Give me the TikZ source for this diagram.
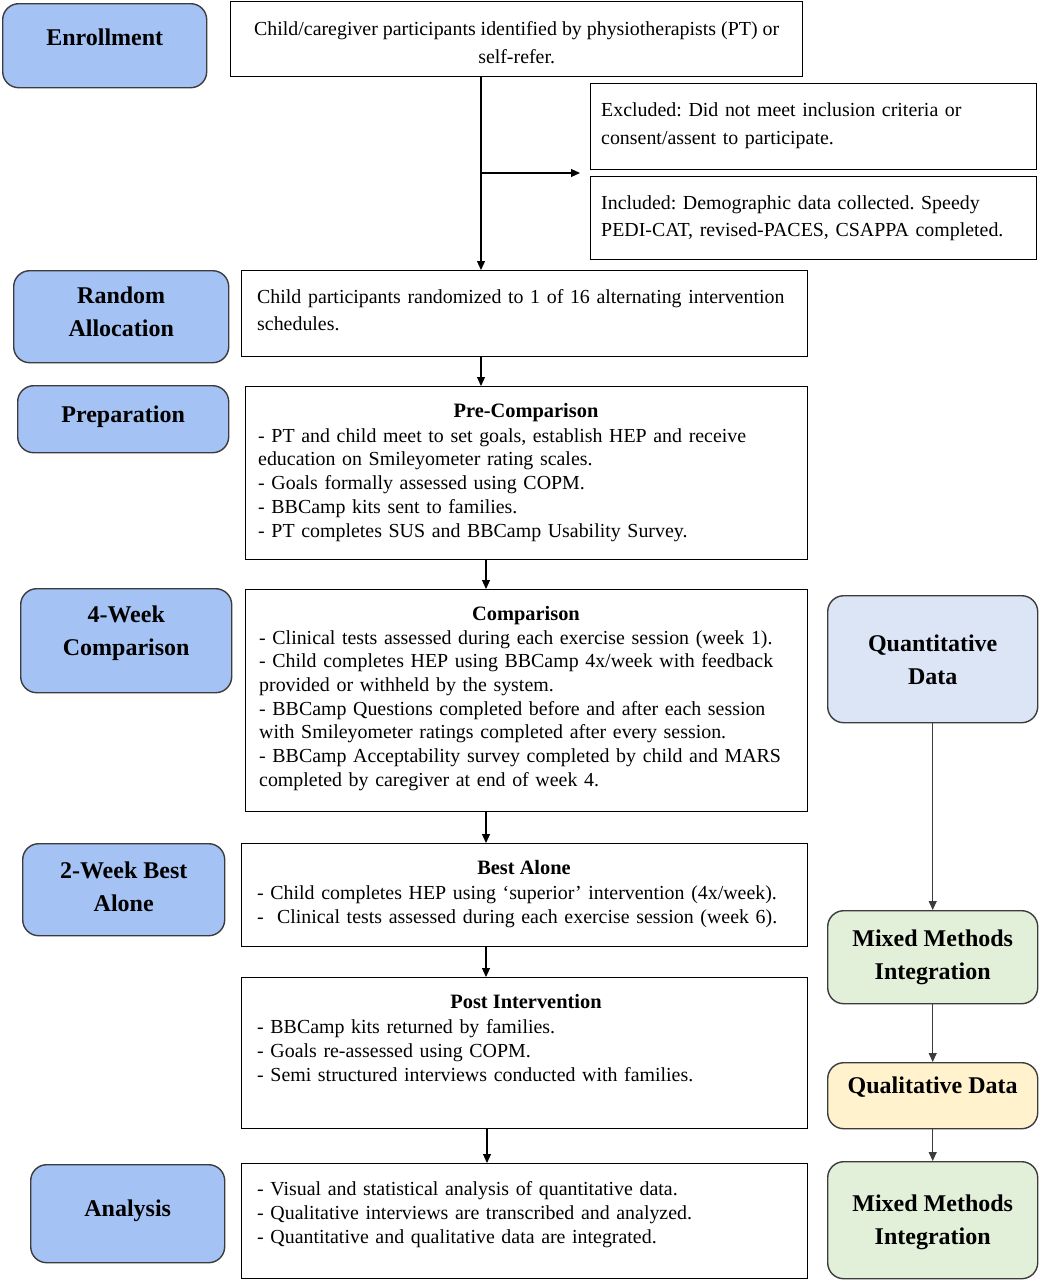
\documentclass[tikz,border=0pt]{standalone}
\usepackage{fontspec}
\setmainfont{Liberation Serif}
\frenchspacing
\usetikzlibrary{arrows.meta}
\definecolor{phaseblue}{RGB}{164,194,244}
\definecolor{quantblue}{RGB}{219,229,245}
\definecolor{mixgreen}{RGB}{226,239,217}
\definecolor{qualyellow}{RGB}{255,242,204}
\definecolor{edgegray}{RGB}{60,60,60}
\begin{document}
\begin{tikzpicture}[x=1pt,y=-1pt,
  phase/.style={draw=edgegray, line width=1.4pt, rounded corners=16pt, fill=phaseblue,
    inner sep=0, anchor=north west},
  side/.style={draw=edgegray, line width=1.4pt, rounded corners=16pt,
    inner sep=0, anchor=north west},
  lbl/.style={font=\bfseries\fontsize{24}{33}\selectfont, align=center, inner sep=0},
  box/.style={draw=black, line width=1.3pt, inner sep=0, anchor=north west},
  body/.style={inner sep=0, anchor=base west, text width=620pt, align=left},
  head/.style={inner sep=0, anchor=base, font=\bfseries\fontsize{20.4}{24}\selectfont},
  arr/.style={-{Triangle[length=9pt,width=8pt]}, line width=1.1pt, draw=black}
]
\useasboundingbox (0,0) rectangle (1039,1280);

% phase labels (left)
\node[phase, minimum width=204, minimum height=84] (penr) at (2,3) {};
\node[lbl] (lenr) at ([yshift=8pt]penr.center) {Enrollment};
\node[phase, minimum width=215, minimum height=92] (prand) at (13,270) {};
\node[lbl] (lrand) at ([yshift=5pt]prand.center) {Random\\Allocation};
\node[phase, minimum width=211, minimum height=67] (pprep) at (17,385) {};
\node[lbl] (lprep) at ([yshift=2pt]pprep.center) {Preparation};
\node[phase, minimum width=211, minimum height=104] (pcomp) at (20,588) {};
\node[lbl] (lcomp) at ([yshift=7pt]pcomp.center) {4-Week\\Comparison};
\node[phase, minimum width=202, minimum height=92] (pbest) at (22,843) {};
\node[lbl] (lbest) at ([yshift=3pt]pbest.center) {2-Week Best\\Alone};
\node[phase, minimum width=194, minimum height=98] (pana) at (30,1164) {};
\node[lbl] (lana) at ([yshift=3pt]pana.center) {Analysis};

% central boxes
\node[box, minimum width=572, minimum height=75] (enr) at (230,1) {};
\node[align=center, inner sep=0, font=\fontsize{19.9}{28}\selectfont] (tenr)
  at ([yshift=-3pt]enr.center)
  {Child/caregiver participants identified by physiotherapists (PT) or\\self-refer.};
\node[box, minimum width=446, minimum height=86] (excl) at (590,83) {};
\node[box, minimum width=446, minimum height=83] (incl) at (590,176) {};
\node[box, minimum width=566, minimum height=86] (rand) at (241,270) {};
\node[box, minimum width=562, minimum height=173] (pre) at (245,386) {};
\node[box, minimum width=562, minimum height=222] (comp) at (245,589) {};
\node[box, minimum width=566, minimum height=103] (best) at (241,843) {};
\node[box, minimum width=566, minimum height=151] (post) at (241,977) {};
\node[box, minimum width=566, minimum height=115] (ana) at (241,1163) {};

% texts
\node[body, font=\fontsize{19.9}{28}\selectfont] (texcl) at (601,116)
  {Excluded: Did not meet inclusion criteria or\\consent/assent to participate.};
\node[body, font=\fontsize{19.9}{27}\selectfont] (tincl) at (601,209)
  {Included: Demographic data collected. Speedy\\PEDI-CAT, revised-PACES, CSAPPA completed.};
\node[body, font=\fontsize{19.9}{27}\selectfont] (trand) at (257,303)
  {Child participants randomized to 1 of 16 alternating intervention\\schedules.};

\node[head] (hpre) at (526,417) {Pre-Comparison};
\node[body, font=\fontsize{19.9}{23.8}\selectfont] (tpre) at (258,442)
  {- PT and child meet to set goals, establish HEP and receive\\
   education on Smileyometer rating scales.\\
   - Goals formally assessed using COPM.\\
   - BBCamp kits sent to families.\\
   - PT completes SUS and BBCamp Usability Survey.};

\node[head] (hcomp) at (526,620) {Comparison};
\node[body, font=\fontsize{19.9}{23.7}\selectfont] (tcomp) at (259,644)
  {- Clinical tests assessed during each exercise session (week 1).\\
   - Child completes HEP using BBCamp 4x/week with feedback\\
   provided or withheld by the system.\\
   - BBCamp Questions completed before and after each session\\
   with Smileyometer ratings completed after every session.\\
   - BBCamp Acceptability survey completed by child and MARS\\
   completed by caregiver at end of week 4.};

\node[head] (hbest) at (524,874) {Best Alone};
\node[body, font=\fontsize{19.9}{24}\selectfont] (tbest) at (257,899)
  {- Child completes HEP using ‘superior’ intervention (4x/week).\\
   -\ \ Clinical tests assessed during each exercise session (week 6).};

\node[head] (hpost) at (526,1008) {Post Intervention};
\node[body, font=\fontsize{19.9}{24}\selectfont] (tpost) at (257,1033)
  {- BBCamp kits returned by families.\\
   - Goals re-assessed using COPM.\\
   - Semi structured interviews conducted with families.};

\node[body, font=\fontsize{19.9}{24}\selectfont] (tana) at (257,1195)
  {- Visual and statistical analysis of quantitative data.\\
   - Qualitative interviews are transcribed and analyzed.\\
   - Quantitative and qualitative data are integrated.};

% right column
\node[side, fill=quantblue, minimum width=210, minimum height=127] (quant) at (827,595) {};
\node[lbl] (lquant) at ([yshift=-1pt]quant.center) {Quantitative\\Data};
\node[side, fill=mixgreen, minimum width=210, minimum height=93] (mix1) at (827,910) {};
\node[lbl] (lmix1) at (mix1.center) {Mixed Methods\\Integration};
\node[side, fill=qualyellow, minimum width=210, minimum height=66] (qual) at (827,1062) {};
\node[lbl] (lqual) at ([yshift=9pt]qual.center) {Qualitative Data};
\node[side, fill=mixgreen, minimum width=210, minimum height=117] (mix2) at (827,1161) {};
\node[lbl] (lmix2) at ([yshift=-2pt]mix2.center) {Mixed Methods\\Integration};

% connectors
\coordinate (br) at (481,173);
\coordinate (brend) at (580,173);
\coordinate (mid) at (486,0);
\coordinate (mid2) at (487,0);
\draw[arr] (enr.south -| br) -- (rand.north -| br);
\draw[arr] (br) -- (brend);
\draw[arr] (rand.south -| br) -- (pre.north -| br);
\draw[arr] (pre.south -| mid) -- (comp.north -| mid);
\draw[arr] (comp.south -| mid) -- (best.north -| mid);
\draw[arr] (best.south -| mid) -- (post.north -| mid);
\draw[arr] (post.south -| mid2) -- (ana.north -| mid2);
\draw[arr, draw=edgegray] (quant) -- (mix1);
\draw[arr, draw=edgegray] (mix1) -- (qual);
\draw[arr, draw=edgegray] (qual) -- (mix2);
\end{tikzpicture}
\end{document}
